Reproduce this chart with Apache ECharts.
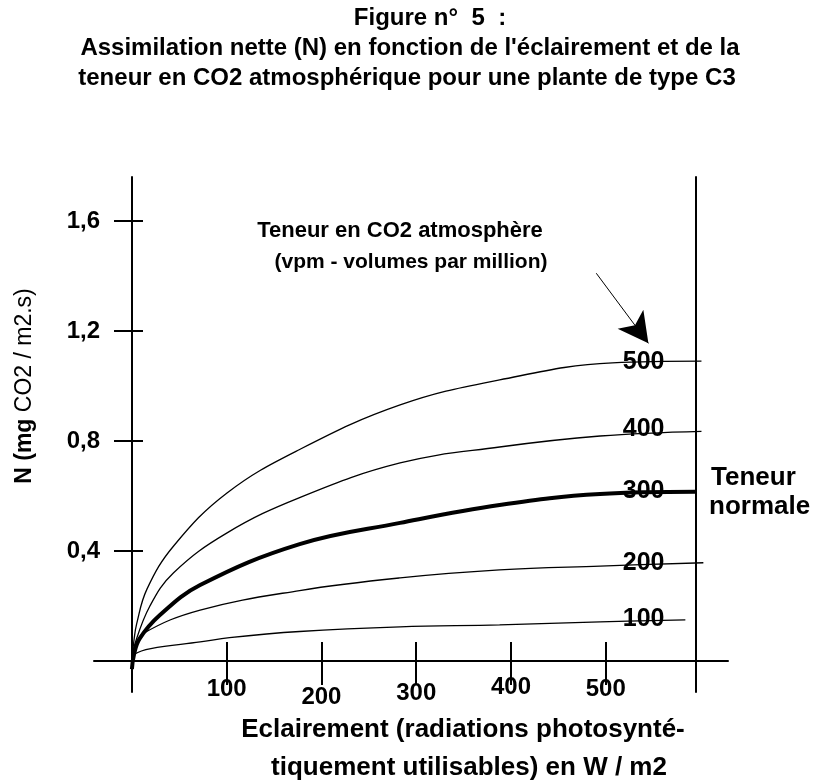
<!DOCTYPE html>
<html>
<head>
<meta charset="utf-8">
<script src="https://cdn.jsdelivr.net/npm/echarts@6/dist/echarts.min.js"></script>
<style>
  html, body { margin: 0; padding: 0; background: #fff; }
  #chart { width: 814px; height: 784px; }
</style>
</head>
<body>
<div id="chart"></div>
<script>
// eclairement (W/m2) et assimilation nette N (mg CO2 / m2.s)
var x500 = [0, 2, 5, 16, 44, 100, 177, 283, 388, 507, 601];
var y500 = [0, 0.07, 0.135, 0.262, 0.418, 0.61, 0.769, 0.931, 1.022, 1.084, 1.09];

var x400 = [0, 3, 19, 44, 100, 177, 283, 388, 494, 601];
var y400 = [0, 0.06, 0.2, 0.321, 0.465, 0.594, 0.72, 0.778, 0.818, 0.835];

var x300 = [0, 2, 8, 29, 72, 177, 283, 388, 494, 595];
var y300 = [-0.03, 0.02, 0.08, 0.165, 0.276, 0.425, 0.502, 0.567, 0.607, 0.615];

var x200 = [0, 3, 12, 72, 177, 283, 388, 494, 603];
var y200 = [0, 0.05, 0.1, 0.185, 0.256, 0.302, 0.331, 0.345, 0.357];

var x100 = [0, 3, 20, 72, 103, 177, 283, 388, 494, 584];
var y100 = [0, 0.025, 0.045, 0.069, 0.085, 0.107, 0.124, 0.131, 0.142, 0.149];

var curveNames = ['500', '400', '300', '200', '100'];
var labelX = 540;
var labelY = [1.088, 0.843, 0.618, 0.357, 0.153];

var xTicks = [100, 200, 300, 400, 500];
var yTicks = [0.4, 0.8, 1.2, 1.6];
// petit decalage vertical des etiquettes de l'axe x (figure scannee)
var xLabelDrop = { 100: 'd2', 200: 'd10', 300: 'd6', 400: 'd0', 500: 'd2' };

var font = "'Liberation Sans', Arial, sans-serif";

function pairs(xs, ys) {
  return xs.map(function (x, i) { return [x, ys[i]]; });
}

var curves = [pairs(x500, y500), pairs(x400, y400), pairs(x300, y300), pairs(x200, y200), pairs(x100, y100)];

var series = curves.map(function (d, i) {
  var s = {
    name: curveNames[i],
    type: 'line',
    data: d,
    smooth: 0.4,
    showSymbol: false,
    lineStyle: { color: '#000', width: curveNames[i] === '300' ? 4 : 1.3 },
    markPoint: {
      symbol: 'circle',
      symbolSize: 0,
      silent: true,
      data: [{ coord: [labelX, labelY[i]] }],
      label: {
        show: true, position: 'inside', formatter: curveNames[i],
        color: '#000', fontFamily: font, fontWeight: 'bold', fontSize: 25
      }
    }
  };
  if (i === 0) {
    s.markLine = {
      silent: true,
      symbol: ['none', 'arrow'],
      symbolSize: [24, 30],
      label: { show: false },
      lineStyle: { color: '#000', width: 1, type: 'solid' },
      data: [[{ coord: [490, 1.41] }, { coord: [545, 1.155] }]]
    };
  }
  return s;
});

function dropStyle(px) {
  return { padding: [px, 0, 0, 0], color: '#000', fontFamily: font, fontWeight: 'bold', fontSize: 24 };
}

var chart = echarts.init(document.getElementById('chart'));
chart.setOption({
  animation: false,
  backgroundColor: '#fff',
  grid: { left: 94, right: 86, top: 177, bottom: 92, outerBoundsMode: 'none' },
  xAxis: [
    {
      type: 'value', min: -40, max: 629, position: 'bottom', offset: -31,
      axisLine: { onZero: false, lineStyle: { color: '#000', width: 2 } },
      axisTick: { customValues: xTicks, length: 24, lineStyle: { color: '#000', width: 2 } },
      axisLabel: {
        customValues: xTicks, margin: 14, color: '#000',
        fontFamily: font, fontWeight: 'bold', fontSize: 24,
        formatter: function (v) { return '{' + xLabelDrop[v] + '|' + v + '}'; },
        rich: { d0: dropStyle(0), d2: dropStyle(2), d6: dropStyle(6), d10: dropStyle(10) }
      },
      splitLine: { show: false }
    },
    {
      type: 'value', min: -40, max: 629, position: 'bottom', offset: -31,
      axisLine: { show: false, onZero: false },
      axisTick: { customValues: xTicks, inside: true, length: 19, lineStyle: { color: '#000', width: 2 } },
      axisLabel: { show: false },
      splitLine: { show: false }
    }
  ],
  yAxis: [
    {
      type: 'value', min: -0.113, max: 1.76, position: 'left', offset: -38,
      axisLine: { show: true, onZero: false, lineStyle: { color: '#000', width: 2 } },
      axisTick: { show: true, customValues: yTicks, length: 18, lineStyle: { color: '#000', width: 2 } },
      axisLabel: {
        customValues: yTicks, margin: 32, color: '#000',
        fontFamily: font, fontWeight: 'bold', fontSize: 24,
        formatter: function (v) { return String(v).replace('.', ','); }
      },
      splitLine: { show: false }
    },
    {
      type: 'value', min: -0.113, max: 1.76, position: 'left', offset: -38,
      axisLine: { show: false, onZero: false },
      axisTick: { show: true, customValues: yTicks, inside: true, length: 11, lineStyle: { color: '#000', width: 2 } },
      axisLabel: { show: false },
      splitLine: { show: false }
    },
    {
      type: 'value', min: -0.113, max: 1.76, position: 'right', offset: -32,
      axisLine: { show: true, onZero: false, lineStyle: { color: '#000', width: 2 } },
      axisTick: { show: false },
      axisLabel: { show: false },
      splitLine: { show: false }
    }
  ],
  graphic: [
    { type: 'text', x: 430, y: 18, style: { text: 'Figure n°  5  :', font: 'bold 24px ' + font, fill: '#000', align: 'center', verticalAlign: 'middle' } },
    { type: 'text', x: 410, y: 48, style: { text: "Assimilation nette (N) en fonction de l'éclairement et de la", font: 'bold 24px ' + font, fill: '#000', align: 'center', verticalAlign: 'middle' } },
    { type: 'text', x: 407, y: 78, style: { text: 'teneur en CO2 atmosphérique pour une plante de type C3', font: 'bold 24px ' + font, fill: '#000', align: 'center', verticalAlign: 'middle' } },
    { type: 'text', x: 400, y: 231, style: { text: 'Teneur en CO2 atmosphère', font: 'bold 22px ' + font, fill: '#000', align: 'center', verticalAlign: 'middle' } },
    { type: 'text', x: 411, y: 262, style: { text: '(vpm - volumes par million)', font: 'bold 21px ' + font, fill: '#000', align: 'center', verticalAlign: 'middle' } },
    { type: 'text', x: 711, y: 478, style: { text: 'Teneur', font: 'bold 26px ' + font, fill: '#000', align: 'left', verticalAlign: 'middle' } },
    { type: 'text', x: 709, y: 507, style: { text: 'normale', font: 'bold 26px ' + font, fill: '#000', align: 'left', verticalAlign: 'middle' } },
    { type: 'text', x: 463, y: 730, style: { text: 'Eclairement (radiations photosynté-', font: 'bold 26px ' + font, fill: '#000', align: 'center', verticalAlign: 'middle' } },
    { type: 'text', x: 469, y: 768, style: { text: 'tiquement utilisables) en W / m2', font: 'bold 26px ' + font, fill: '#000', align: 'center', verticalAlign: 'middle' } },
    {
      type: 'text', x: 25, y: 386, rotation: Math.PI / 2,
      style: {
        text: '{b|N (mg} CO2 / m2.s)', align: 'center', verticalAlign: 'middle', fill: '#000',
        font: '23px ' + font,
        rich: { b: { fontFamily: font, fontWeight: 'bold', fontSize: 23, fill: '#000' } }
      }
    }
  ],
  series: series
});
</script>
</body>
</html>
